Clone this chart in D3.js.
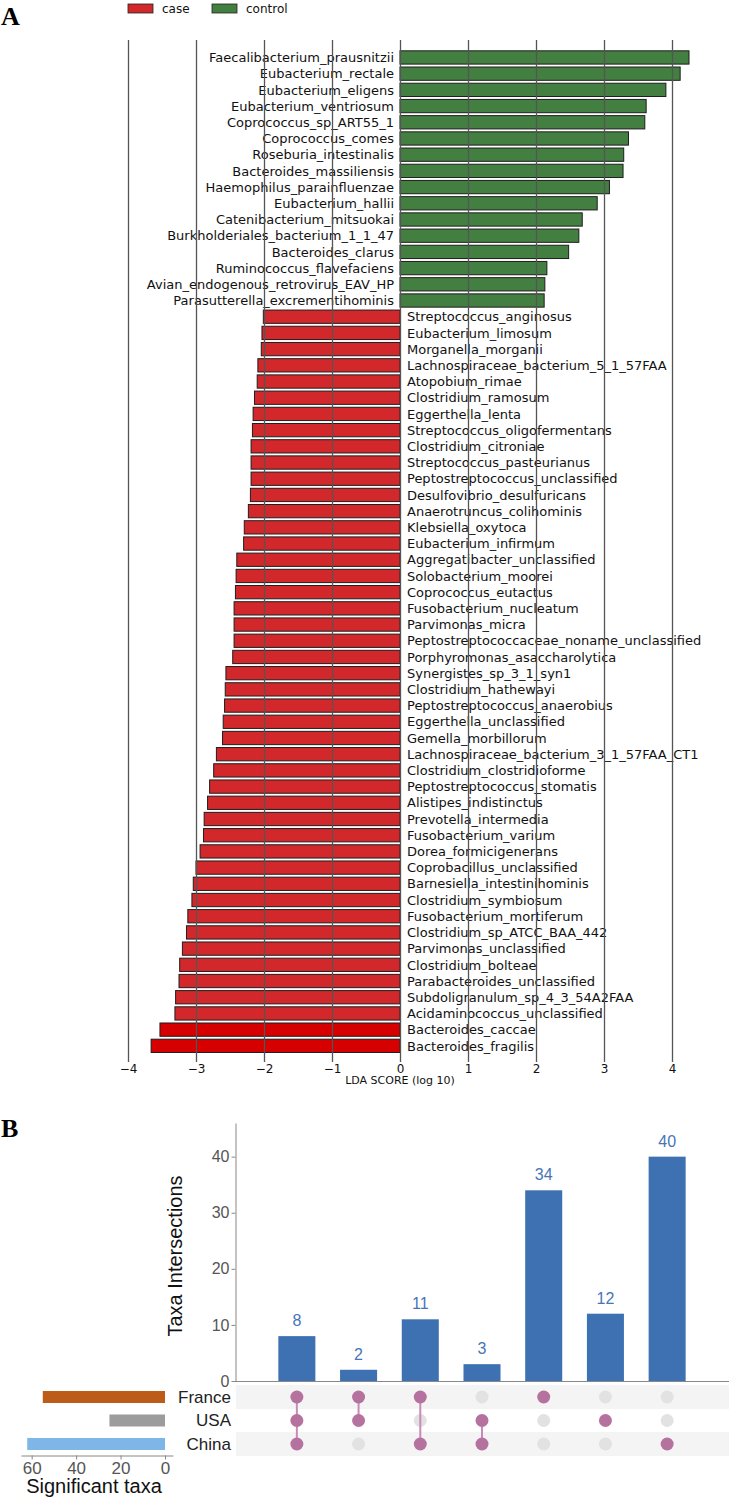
<!DOCTYPE html>
<html>
<head>
<meta charset="utf-8">
<script src="https://cdn.jsdelivr.net/npm/d3@7.9.0/dist/d3.min.js"></script>
<style>
  body { margin: 0; background: #fff; }
  svg { display: block; }
</style>
</head>
<body>
<svg id="fig" width="729" height="1499"></svg>
<script>
// ---- panel A data (LEfSe) ----
const controlTaxa = [
  "Faecalibacterium_prausnitzii", "Eubacterium_rectale", "Eubacterium_eligens",
  "Eubacterium_ventriosum", "Coprococcus_sp_ART55_1", "Coprococcus_comes",
  "Roseburia_intestinalis", "Bacteroides_massiliensis", "Haemophilus_parainfluenzae",
  "Eubacterium_hallii", "Catenibacterium_mitsuokai", "Burkholderiales_bacterium_1_1_47",
  "Bacteroides_clarus", "Ruminococcus_flavefaciens", "Avian_endogenous_retrovirus_EAV_HP",
  "Parasutterella_excrementihominis"
];
const controlLDA = [4.25, 4.12, 3.91, 3.62, 3.60, 3.36, 3.29, 3.28, 3.08, 2.90, 2.68, 2.63, 2.48, 2.16, 2.13, 2.12];

const caseTaxa = [
  "Streptococcus_anginosus", "Eubacterium_limosum", "Morganella_morganii",
  "Lachnospiraceae_bacterium_5_1_57FAA", "Atopobium_rimae", "Clostridium_ramosum",
  "Eggerthella_lenta", "Streptococcus_oligofermentans", "Clostridium_citroniae",
  "Streptococcus_pasteurianus", "Peptostreptococcus_unclassified", "Desulfovibrio_desulfuricans",
  "Anaerotruncus_colihominis", "Klebsiella_oxytoca", "Eubacterium_infirmum",
  "Aggregatibacter_unclassified", "Solobacterium_moorei", "Coprococcus_eutactus",
  "Fusobacterium_nucleatum", "Parvimonas_micra", "Peptostreptococcaceae_noname_unclassified",
  "Porphyromonas_asaccharolytica", "Synergistes_sp_3_1_syn1", "Clostridium_hathewayi",
  "Peptostreptococcus_anaerobius", "Eggerthella_unclassified", "Gemella_morbillorum",
  "Lachnospiraceae_bacterium_3_1_57FAA_CT1", "Clostridium_clostridioforme", "Peptostreptococcus_stomatis",
  "Alistipes_indistinctus", "Prevotella_intermedia", "Fusobacterium_varium",
  "Dorea_formicigenerans", "Coprobacillus_unclassified", "Barnesiella_intestinihominis",
  "Clostridium_symbiosum", "Fusobacterium_mortiferum", "Clostridium_sp_ATCC_BAA_442",
  "Parvimonas_unclassified", "Clostridium_bolteae", "Parabacteroides_unclassified",
  "Subdoligranulum_sp_4_3_54A2FAA", "Acidaminococcus_unclassified", "Bacteroides_caccae",
  "Bacteroides_fragilis"
];
const caseLDA = [
  -2.01, -2.03, -2.04, -2.09, -2.10, -2.14, -2.16, -2.17, -2.19, -2.19, -2.19, -2.20,
  -2.23, -2.29, -2.30, -2.40, -2.41, -2.42, -2.44, -2.44, -2.44, -2.46, -2.56, -2.57,
  -2.58, -2.60, -2.61, -2.70, -2.74, -2.80, -2.83, -2.88, -2.89, -2.94, -3.00, -3.04,
  -3.06, -3.12, -3.14, -3.20, -3.24, -3.25, -3.30, -3.31, -3.53, -3.66
];
const ldaTicks = [-4, -3, -2, -1, 0, 1, 2, 3, 4];

// ---- panel B data (UpSet) ----
const sets = ["France", "USA", "China"];
const setSizes = [55, 25, 62];
const setColors = ["#bd5b18", "#9c9c9c", "#7db6e7"];
const intersectionCounts = [8, 2, 11, 3, 34, 12, 40];
const intersectionMembers = [
  ["France", "USA", "China"],
  ["France", "USA"],
  ["France", "China"],
  ["USA", "China"],
  ["France"],
  ["USA"],
  ["China"]
];

const svg = d3.select("#fig");

// ================= Panel A =================
const rows = controlTaxa.map((t, i) => ({ name: t, v: controlLDA[i], grp: "control" }))
  .concat(caseTaxa.map((t, i) => ({ name: t, v: caseLDA[i], grp: "case" })));

const x = d3.scaleLinear().domain([-4, 4]).range([128, 672]);
const y = d3.scaleBand().domain(rows.map(d => d.name)).range([47.9, 1055.4]).padding(0.18);

const barFill = d => {
  if (d.grp === "control") return "#437f40";
  return d.v < -3.5 ? "#d60000" : "#d2282b";
};

const gA = svg.append("g");
gA.selectAll("rect.bar")
  .data(rows)
  .join("rect")
  .attr("class", "bar")
  .attr("x", d => x(Math.min(0, d.v)))
  .attr("width", d => Math.abs(x(d.v) - x(0)))
  .attr("y", d => y(d.name))
  .attr("height", y.bandwidth())
  .attr("fill", barFill)
  .attr("stroke", "#1e1e1e")
  .attr("stroke-width", 1);

gA.selectAll("text.lab")
  .data(rows)
  .join("text")
  .attr("class", "lab")
  .attr("x", d => d.v > 0 ? x(0) - 6 : x(0) + 7)
  .attr("y", d => y(d.name) + y.bandwidth() / 2)
  .attr("dy", "0.36em")
  .attr("text-anchor", d => d.v > 0 ? "end" : "start")
  .style("font-family", "DejaVu Sans")
  .style("font-size", "13px")
  .attr("fill", "#111")
  .text(d => d.name);

// grid lines drawn over the bars, as in the original
const axA = gA.append("g")
  .attr("transform", "translate(0,1062)")
  .call(d3.axisBottom(x).tickValues(ldaTicks).tickSize(-1022).tickPadding(2));
axA.select(".domain").remove();
axA.selectAll(".tick line").attr("stroke", "#555").attr("stroke-width", 1.3);
axA.selectAll(".tick text")
  .style("font-family", "DejaVu Sans")
  .style("font-size", "12px")
  .attr("fill", "#111");

gA.append("text")
  .attr("x", x(0)).attr("y", 1084)
  .attr("text-anchor", "middle")
  .style("font-family", "DejaVu Sans").style("font-size", "11px")
  .attr("fill", "#111")
  .text("LDA SCORE (log 10)");

// legend
const legend = [["case", "#d2282b", 128], ["control", "#437f40", 212]];
legend.forEach(([lab, col, lx]) => {
  gA.append("rect").attr("x", lx).attr("y", 4).attr("width", 25).attr("height", 9)
    .attr("fill", col).attr("stroke", "#222").attr("stroke-width", 0.8);
  gA.append("text").attr("x", lx + 34).attr("y", 13)
    .style("font-family", "DejaVu Sans").style("font-size", "12px")
    .attr("fill", "#111").text(lab);
});

svg.append("text").attr("x", 1).attr("y", 25)
  .style("font-family", "Liberation Serif").style("font-size", "26px").style("font-weight", "bold")
  .text("A");
svg.append("text").attr("x", 1).attr("y", 1137)
  .style("font-family", "Liberation Serif").style("font-size", "26px").style("font-weight", "bold")
  .text("B");

// ================= Panel B =================
const gB = svg.append("g").style("font-family", "Liberation Sans");

const yB = d3.scaleLinear().domain([0, 46]).range([1381, 1123]);
const xB = d3.scaleBand().domain(d3.range(intersectionCounts.length)).range([266, 698])
  .paddingInner(0.4).paddingOuter(0.2);
const rowY = d3.scalePoint().domain(sets).range([1397, 1444]);
const cx = i => xB(i) + xB.bandwidth() / 2;

// row shading
gB.selectAll("rect.band")
  .data(sets.filter((s, i) => i !== 1))
  .join("rect")
  .attr("x", 236).attr("width", 493)
  .attr("y", d => rowY(d) - 12).attr("height", 24)
  .attr("fill", "#f4f4f4");

// intersection bars
gB.selectAll("rect.ibar")
  .data(intersectionCounts)
  .join("rect")
  .attr("x", (d, i) => xB(i))
  .attr("width", xB.bandwidth())
  .attr("y", d => yB(d))
  .attr("height", d => yB(0) - yB(d))
  .attr("fill", "#3e71b1");

gB.selectAll("text.ival")
  .data(intersectionCounts)
  .join("text")
  .attr("x", (d, i) => cx(i))
  .attr("y", d => yB(d) - 10)
  .attr("text-anchor", "middle")
  .style("font-size", "16px")
  .attr("fill", "#4675b7")
  .text(d => d);

const axB = gB.append("g")
  .attr("transform", "translate(235.5,0)")
  .call(d3.axisLeft(yB).tickValues([0, 10, 20, 30, 40]).tickSize(4).tickSizeOuter(0).tickPadding(2));
axB.select(".domain").attr("stroke", "#888");
axB.selectAll(".tick line").attr("stroke", "#888");
axB.selectAll(".tick text").style("font-family", "Liberation Sans").style("font-size", "16px").attr("fill", "#555");

gB.append("line").attr("x1", 235).attr("x2", 729).attr("y1", 1381.5).attr("y2", 1381.5)
  .attr("stroke", "#888");

gB.append("text")
  .attr("transform", "translate(182,1256) rotate(-90)")
  .attr("text-anchor", "middle")
  .style("font-size", "20px")
  .attr("fill", "#111")
  .text("Taxa Intersections");

// matrix dots
const cells = [];
intersectionMembers.forEach((m, i) => sets.forEach(s => cells.push({ i, s, on: m.includes(s) })));
gB.selectAll("circle.off")
  .data(cells.filter(c => !c.on))
  .join("circle")
  .attr("cx", d => cx(d.i))
  .attr("cy", d => rowY(d.s))
  .attr("r", 6.5)
  .attr("fill", "#e2e2e2");

gB.selectAll("line.conn")
  .data(intersectionMembers.map((m, i) => ({ m, i })).filter(d => d.m.length > 1))
  .join("line")
  .attr("x1", d => cx(d.i))
  .attr("x2", d => cx(d.i))
  .attr("y1", d => d3.min(d.m, s => rowY(s)))
  .attr("y2", d => d3.max(d.m, s => rowY(s)))
  .attr("stroke", "#c98bb6")
  .attr("stroke-width", 2);

gB.selectAll("circle.on")
  .data(cells.filter(c => c.on))
  .join("circle")
  .attr("cx", d => cx(d.i))
  .attr("cy", d => rowY(d.s))
  .attr("r", 6.5)
  .attr("fill", "#b6729f");

// set labels
gB.selectAll("text.setlab")
  .data(sets)
  .join("text")
  .attr("x", 231)
  .attr("y", d => rowY(d))
  .attr("dy", "0.35em")
  .attr("text-anchor", "end")
  .style("font-size", "17px")
  .attr("fill", "#222")
  .text(d => d);

// set size bars
const xS = d3.scaleLinear().domain([-3.6, 64.8]).range([173, 21]);
gB.selectAll("rect.sbar")
  .data(sets)
  .join("rect")
  .attr("x", (d, i) => xS(setSizes[i]))
  .attr("width", (d, i) => xS(0) - xS(setSizes[i]))
  .attr("y", d => rowY(d) - 6)
  .attr("height", 12)
  .attr("fill", (d, i) => setColors[i]);

const axS = gB.append("g")
  .attr("transform", "translate(0,1455.5)")
  .call(d3.axisBottom(xS).tickValues([0, 20, 40, 60]).tickSize(4).tickSizeOuter(0).tickPadding(2));
axS.select(".domain").attr("stroke", "#888");
axS.selectAll(".tick line").attr("stroke", "#888");
axS.selectAll(".tick text").style("font-family", "Liberation Sans").style("font-size", "17px").attr("fill", "#555");

gB.append("text")
  .attr("x", 94).attr("y", 1493)
  .attr("text-anchor", "middle")
  .style("font-size", "20px")
  .attr("fill", "#111")
  .text("Significant taxa");
</script>
</body>
</html>
